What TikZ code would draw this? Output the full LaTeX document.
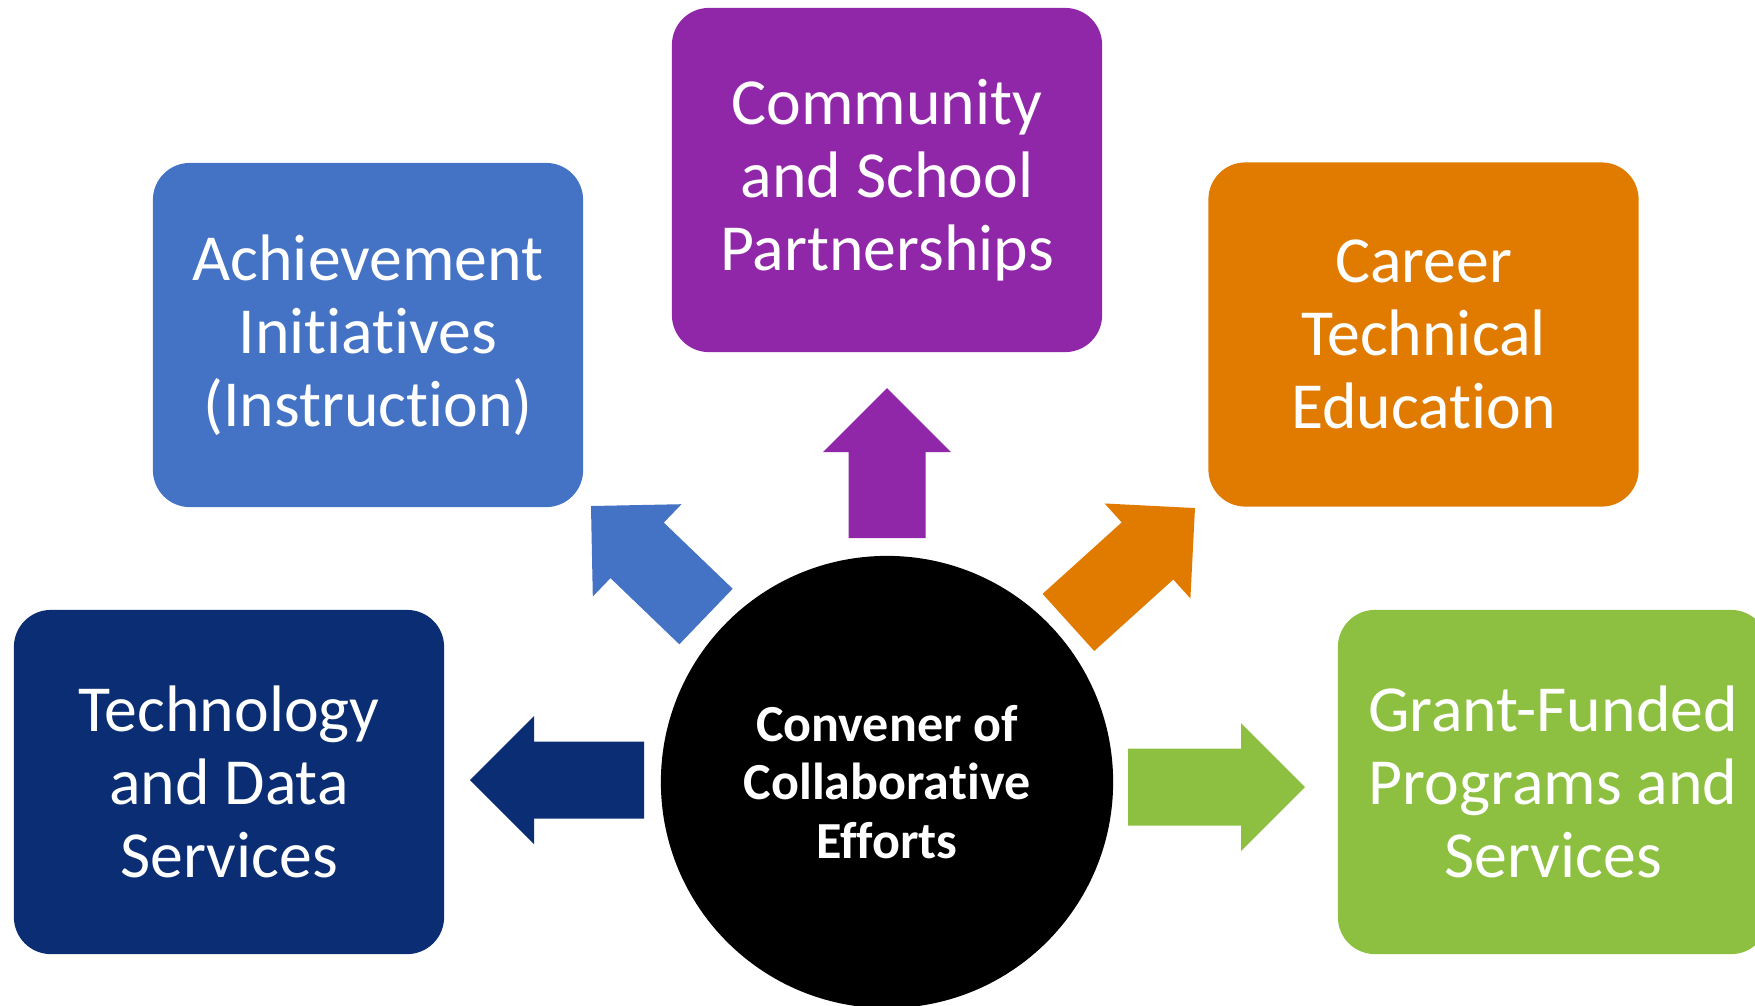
\documentclass[tikz,border=0pt]{standalone}
\usepackage{fontspec}
\setmainfont{Carlito}[RawFeature={-liga;-clig;-calt;-dlig;-rlig}]
\usepackage{tikz}

\definecolor{achblue}{HTML}{4472C4}
\definecolor{compurple}{HTML}{9027A8}
\definecolor{carorange}{HTML}{E07B00}
\definecolor{technavy}{HTML}{0A2D73}
\definecolor{grantgreen}{HTML}{8DC041}

\tikzset{
  areabox/.style={rounded corners=0.37cm, minimum width=4.3cm, minimum height=3.44cm,
    align=center, text=white, inner sep=0pt, font=\fontsize{18.7}{20.8}\selectfont},
  hub/.style={circle, fill=black, minimum size=4.52cm, inner sep=0pt, align=center,
    text=white, font=\fontsize{14.8}{16.6}\selectfont\bfseries}
}

\begin{document}
\begin{tikzpicture}[x=0.01cm, y=-0.01cm]
\useasboundingbox (0,0) rectangle (1755,1005);
\clip (0,0) rectangle (1755,1005);

\node[areabox, fill=achblue] (ach) at (368,335) {Achievement\\Initiatives\\(Instruction)};
\node[areabox, fill=compurple] (com) at (887,180) {Community\\and School\\Partnerships};
\node[areabox, fill=carorange] (car) at (1423.5,334.5) {Career\\Technical\\Education};
\node[areabox, fill=technavy] (tech) at (229,782) {Technology\\and Data\\Services};
\node[areabox, fill=grantgreen] (grant) at (1553,782) {Grant-Funded\\Programs and\\Services};

\node[hub] (conv) at (887,782) {Convener of\\Collaborative\\Efforts};

\foreach \px/\py/\ang/\len/\col in {887/538/90/150/compurple, 644/780/180/174/technavy,
    1128/787/0/177/grantgreen, 706/616.5/136.15/159.5/achblue, 1068.4/622.4/42.1/170.6/carorange}{
    \pgfmathsetmacro{\hb}{\len-64}
    \fill[\col, shift={(\px,\py)}, rotate=\ang] (0,38.5) -- (\hb,38.5) -- (\hb,64) -- (\len,0)
        -- (\hb,-64) -- (\hb,-38.5) -- (0,-38.5) -- cycle;
}
\end{tikzpicture}
\end{document}
